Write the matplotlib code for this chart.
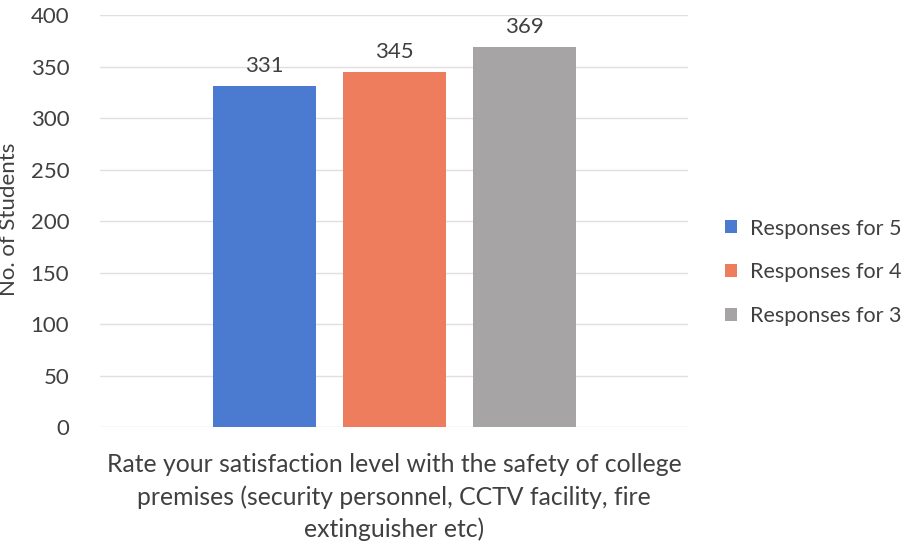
import numpy as np
import matplotlib
matplotlib.use('Agg')
import matplotlib.pyplot as plt

# data
series = ['Responses for 5', 'Responses for 4', 'Responses for 3']
counts = [331, 345, 369]
colors = ['#4a7bd0', '#ee7d5e', '#a7a4a6']
category = ('Rate your satisfaction level with the safety of college\n'
            'premises (security personnel, CCTV facility, fire\n'
            'extinguisher etc)')

plt.rcParams['font.family'] = ['Lato', 'DejaVu Sans']
text_col = '#404040'

fig = plt.figure(figsize=(9.08, 5.44), dpi=100)
ax = fig.add_axes([0.110, 0.215, 0.648, 0.757])

x = np.arange(len(counts))
bars = ax.bar(x, counts, width=0.792, color=colors, label=series, zorder=2)
for xi, v in zip(x, counts):
    ax.text(xi, v + 10, str(v), ha='center', va='bottom', fontsize=16, color=text_col)

ax.set_ylim(0, 400)
ax.set_yticks(range(0, 401, 50))
ax.set_xlim(-1.265, 3.258)
ax.set_xticks([])
ax.grid(axis='y', color='#e4dde3', linewidth=1, zorder=0)
for s in ax.spines.values():
    s.set_visible(False)
ax.tick_params(axis='y', length=0, pad=22, labelsize=16, labelcolor=text_col)

ax.set_ylabel('No. of Students', fontsize=16, color=text_col)
ax.yaxis.set_label_coords(-0.138, 0.505)
ax.set_xlabel(category, fontsize=17.8, color=text_col, labelpad=19, linespacing=1.45)

ax.legend(handles=bars, labels=series, loc='center left', bbox_to_anchor=(1.03, 0.376),
          frameon=False, fontsize=15.5, labelcolor=text_col, handlelength=0.55,
          handleheight=0.55, handletextpad=0.6, labelspacing=1.1)

fig.savefig('out.png', dpi=100)
